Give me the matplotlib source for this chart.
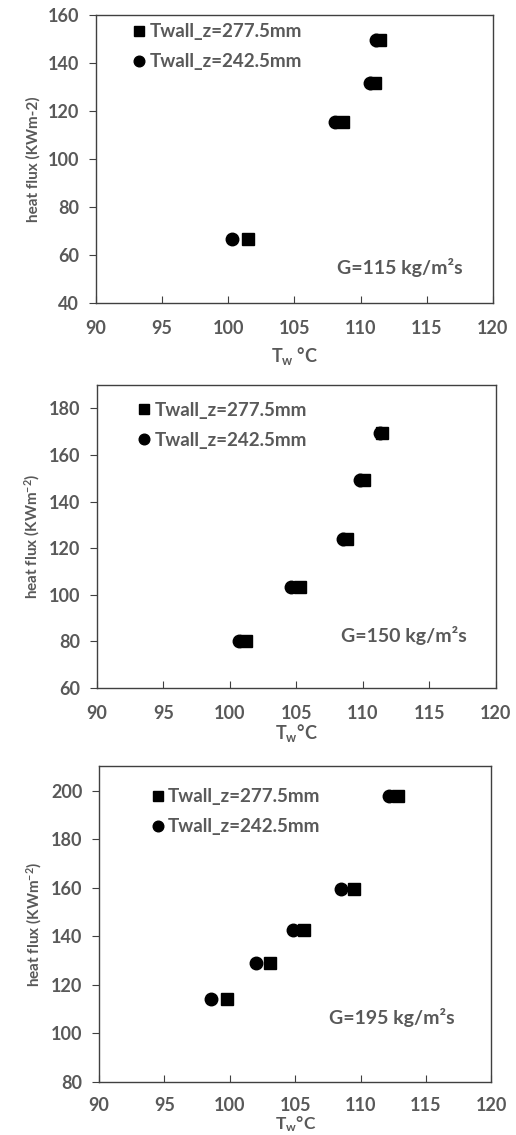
import numpy as np
import matplotlib
matplotlib.use("Agg")
import matplotlib.pyplot as plt

plt.rcParams['font.family'] = ['Lato', 'DejaVu Sans']
plt.rcParams['font.weight'] = 'bold'
plt.rcParams['mathtext.fontset'] = 'custom'
plt.rcParams['mathtext.rm'] = 'Lato:bold'
plt.rcParams['mathtext.it'] = 'Lato:bold'
plt.rcParams['mathtext.bf'] = 'Lato:bold'
plt.rcParams['mathtext.default'] = 'bf'

GRAY = '#595959'

# G = 115 kg/m2s
t_277_a = [101.5, 108.7, 111.1, 111.5]
t_242_a = [100.3, 108.1, 110.7, 111.2]
q_a = [66.8, 115.6, 131.8, 149.6]

# G = 150 kg/m2s
t_277_b = [101.2, 105.3, 108.8, 110.1, 111.4]
t_242_b = [100.7, 104.6, 108.5, 109.8, 111.3]
q_b = [80.3, 103.3, 124.0, 149.3, 169.3]

# G = 195 kg/m2s
t_277_c = [99.8, 103.05, 105.65, 109.5, 112.9]
t_242_c = [98.6, 102.0, 104.8, 108.5, 112.2]
q_c = [114.3, 129.1, 142.7, 159.6, 198.0]

panels = [
    dict(t277=t_277_a, t242=t_242_a, q=q_a, ylim=(40, 160), yticks=np.arange(40, 161, 20),
         ylabel="heat flux (KWm-2)", xlabel="T$_w$ °C", note="G=115 kg/m²s",
         rect=[0.186, 0.733, 0.769, 0.2537], note_xy=(0.766, 0.125), leg_xy=(0.055, 1.03),
         xpad=12, xlpad=6, xlsize=13),
    dict(t277=t_277_b, t242=t_242_b, q=q_b, ylim=(60, 190), yticks=np.arange(60, 181, 20),
         ylabel="heat flux (KWm$^{-2}$)", xlabel="T$_w$°C", note="G=150 kg/m²s",
         rect=[0.188, 0.3938, 0.773, 0.267], note_xy=(0.77, 0.172), leg_xy=(0.065, 1.0),
         xpad=12, xlpad=0, xlsize=13),
    dict(t277=t_277_c, t242=t_242_c, q=q_c, ylim=(80, 210), yticks=np.arange(80, 201, 20),
         ylabel="heat flux (KWm$^{-2}$)", xlabel="T$_w$°C", note="G=195 kg/m²s",
         rect=[0.192, 0.0467, 0.760, 0.278], note_xy=(0.747, 0.203), leg_xy=(0.095, 0.985),
         xpad=11, xlpad=0, xlsize=12.5),
]

fig = plt.figure(figsize=(5.16, 11.35), dpi=100)

for p in panels:
    ax = fig.add_axes(p['rect'])
    ax.plot(p['t277'], p['q'], 's', color='black', markersize=9, label='Twall_z=277.5mm')
    ax.plot(p['t242'], p['q'], 'o', color='black', markersize=9, label='Twall_z=242.5mm')
    ax.set_xlim(90, 120)
    ax.set_ylim(*p['ylim'])
    ax.set_xticks(np.arange(90, 121, 5))
    ax.set_yticks(p['yticks'])
    ax.tick_params(axis='x', direction='in', length=5, pad=p['xpad'], labelsize=13,
                   labelcolor=GRAY, color='#404040')
    ax.tick_params(axis='y', direction='out', length=5, pad=7, labelsize=13,
                   labelcolor=GRAY, color='#404040')
    for s in ax.spines.values():
        s.set_color('#404040')
        s.set_linewidth(1.0)
    ax.set_ylabel(p['ylabel'], color=GRAY, fontsize=11, fontweight='bold', labelpad=5)
    ax.set_xlabel(p['xlabel'], color=GRAY, fontsize=p['xlsize'], fontweight='bold',
                  labelpad=p['xlpad'])
    ax.text(p['note_xy'][0], p['note_xy'][1], p['note'], transform=ax.transAxes,
            ha='center', va='center', color=GRAY, fontsize=14, fontweight='bold')
    leg = ax.legend(loc='upper left', bbox_to_anchor=p['leg_xy'], frameon=False,
                    handlelength=0.5, handletextpad=0.3, labelspacing=0.7,
                    markerscale=0.85, fontsize=13.5)
    for t in leg.get_texts():
        t.set_color(GRAY)
        t.set_fontweight('bold')

fig.savefig("out.png", dpi=100)
